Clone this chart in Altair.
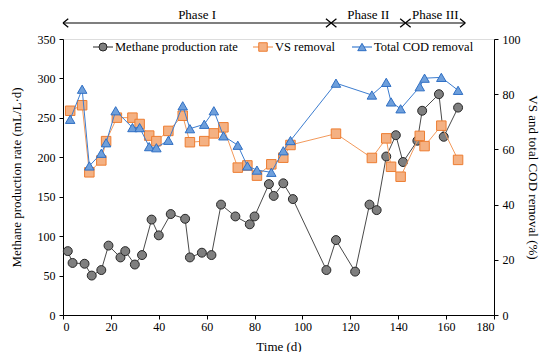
import altair as alt
import pandas as pd

# ---------------- data ----------------
methane_day = [2, 4, 9, 12, 16, 19, 24, 26, 30, 33, 37, 40, 45, 51, 53, 58, 62, 66, 72, 78,
               80, 86, 88, 92, 96, 110, 114, 122, 128, 131, 135, 139, 142, 148, 150, 157, 159, 165]
methane_rate = [81, 66, 65, 50, 57, 88, 73, 81, 64, 76, 121, 101, 128, 122, 73, 79, 76, 140, 125, 115,
                125, 166, 151, 167, 147, 57, 95, 55, 140, 133, 201, 228, 194, 221, 259, 280, 226, 263]

vs_day = [3, 8, 11, 16, 18, 22.5, 29, 32, 36, 39, 44, 50, 53, 59, 63, 67, 73, 77, 81, 87,
          92, 95, 114, 129, 135, 137, 141, 149, 151, 158, 165]
vs_removal = [74, 76, 51.7, 56, 63, 71.5, 71.5, 69.2, 65, 63, 66.7, 72.2, 62.6, 63, 65.8, 68, 53.4, 54.2,
              50.5, 54.6, 57, 61.6, 65.7, 56.9, 64, 53.7, 50.1, 64.9, 61.2, 68.6, 56.2]

cod_day = [3, 8, 11, 16, 18, 22, 29, 32, 36, 39, 44, 50, 53, 59, 63, 67, 73, 77, 81, 87,
           92, 95, 114, 129, 135, 137, 141, 149, 151, 158, 165]
cod_removal = [70.9, 81.8, 54, 58.6, 62.4, 74, 67.9, 67.9, 61, 60.6, 63.3, 75.8, 67.5, 69.1, 74, 64.9,
               61.5, 54, 52.5, 51.7, 59.5, 63.2, 84, 79.7, 84.3, 77.2, 74.7, 82.7, 85.8, 86.1, 81.4]

series_names = ["Methane production rate", "VS removal", "Total COD removal"]

phase_names = ["Phase I", "Phase II", "Phase III"]
phase_start = [0, 112, 143]
phase_end = [112, 143, 168]

x_ticks = list(range(0, 181, 20))
left_ticks = list(range(0, 351, 50))
right_ticks = list(range(0, 101, 20))

# ---------------- styling ----------------
FONT = "Liberation Serif"
styles = {
    "Methane production rate": dict(shape="circle", fill="#7f7f7f", stroke="#262626", line="#4a4a4a", size=80),
    "VS removal": dict(shape="square", fill="#F4B183", stroke="#ED7D31", line="#F39A5C", size=90),
    "Total COD removal": dict(shape="triangle-up", fill="#6E9FDB", stroke="#2F6FC4", line="#3C7DD0", size=90),
}

x_axis = alt.Axis(values=x_ticks, title="Time (d)", grid=False, labelFont=FONT, titleFont=FONT,
                  labelFontSize=12, titleFontSize=13, titleFontWeight="normal", labelColor="black",
                  titleColor="black", domainColor="black", tickColor="black", tickSize=4,
                  labelPadding=2, titlePadding=8)
x_scale = alt.Scale(domain=[0, 180], nice=False)

left_axis = alt.Axis(values=left_ticks, title="Methane production rate (mL/L\u00b7d)", grid=False,
                     labelFont=FONT, titleFont=FONT, labelFontSize=12, titleFontSize=13,
                     titleFontWeight="normal", labelColor="black", titleColor="black",
                     domainColor="black", tickColor="black", tickSize=4, labelPadding=4, titlePadding=14)
right_axis = alt.Axis(values=right_ticks, title="VS and total COD removal (%)", orient="right", grid=False,
                      labelFont=FONT, titleFont=FONT, labelFontSize=12, titleFontSize=13,
                      titleFontWeight="normal", labelColor="black", titleColor="black",
                      domainColor="black", tickColor="black", tickSize=4, labelPadding=4, titlePadding=5)


def series_layers(name, days, values, yscale, yaxis):
    st = styles[name]
    df = pd.DataFrame({"day": days, "value": values})
    base = alt.Chart(df).encode(
        x=alt.X("day:Q", scale=x_scale, axis=x_axis),
        y=alt.Y("value:Q", scale=yscale, axis=yaxis),
    )
    line = base.mark_line(color=st["line"], strokeWidth=1)
    pts = base.mark_point(shape=st["shape"], filled=True, fill=st["fill"], stroke=st["stroke"],
                          strokeWidth=1, size=st["size"], opacity=1)
    return [line, pts]


left_scale = alt.Scale(domain=[0, 350], nice=False)
right_scale = alt.Scale(domain=[0, 100], nice=False)

left = alt.layer(*series_layers("Methane production rate", methane_day, methane_rate, left_scale, left_axis))
right = alt.layer(*(series_layers("VS removal", vs_day, vs_removal, right_scale, right_axis)
                    + series_layers("Total COD removal", cod_day, cod_removal, right_scale, right_axis)))

# ---------------- phase annotations ----------------
phase_df = pd.DataFrame({"phase": phase_names, "start": phase_start, "end": phase_end})
phase_df["mid"] = (phase_df["start"] + phase_df["end"]) / 2
ARROW_Y = -16
pbase = alt.Chart(phase_df)
phase_rule = pbase.mark_rule(color="black", strokeWidth=1.2).encode(
    x=alt.X("start:Q", scale=x_scale, axis=x_axis), x2="end:Q", y=alt.value(ARROW_Y))
left_head = pbase.mark_point(shape="M0,0L1,-0.8M0,0L1,0.8", filled=False, stroke="black",
                             strokeWidth=1.3, size=110, opacity=1).encode(
    x=alt.X("start:Q", scale=x_scale, axis=x_axis), y=alt.value(ARROW_Y))
right_head = pbase.mark_point(shape="M0,0L-1,-0.8M0,0L-1,0.8", filled=False, stroke="black",
                              strokeWidth=1.3, size=110, opacity=1).encode(
    x=alt.X("end:Q", scale=x_scale, axis=x_axis), y=alt.value(ARROW_Y))
phase_text = pbase.mark_text(font=FONT, fontSize=13, baseline="middle", align="center", color="black").encode(
    x=alt.X("mid:Q", scale=x_scale, axis=x_axis), y=alt.value(-24), text="phase:N")

# ---------------- legend (drawn manually) ----------------
LEG_Y = 8
leg_pos = {"Methane production rate": 30, "VS removal": 190, "Total COD removal": 289}
legend_layers = []
for name in series_names:
    st = styles[name]
    x0 = leg_pos[name]
    ldf = pd.DataFrame({"label": [name]})
    lb = alt.Chart(ldf)
    legend_layers.append(lb.mark_rule(color=st["line"], strokeWidth=1.2).encode(
        x=alt.value(x0), x2=alt.value(x0 + 20), y=alt.value(LEG_Y)))
    legend_layers.append(lb.mark_point(shape=st["shape"], filled=True, fill=st["fill"], stroke=st["stroke"],
                                       strokeWidth=1, size=st["size"] * 0.8, opacity=1).encode(
        x=alt.value(x0 + 10), y=alt.value(LEG_Y)))
    legend_layers.append(lb.mark_text(font=FONT, fontSize=12.5, align="left", baseline="middle",
                                      color="black").encode(
        x=alt.value(x0 + 22), y=alt.value(LEG_Y), text="label:N"))

chart = alt.layer(left, right, phase_rule, left_head, right_head, phase_text, *legend_layers).resolve_scale(
    y="independent"
).properties(
    width=431, height=276,
    padding={"left": 55, "top": 31, "right": 48, "bottom": 37},
    autosize=alt.AutoSizeParams(type="none"),
).configure_view(stroke=None).configure(background="white")

chart.save("out.html", embed_options={"renderer": "svg", "actions": False})
